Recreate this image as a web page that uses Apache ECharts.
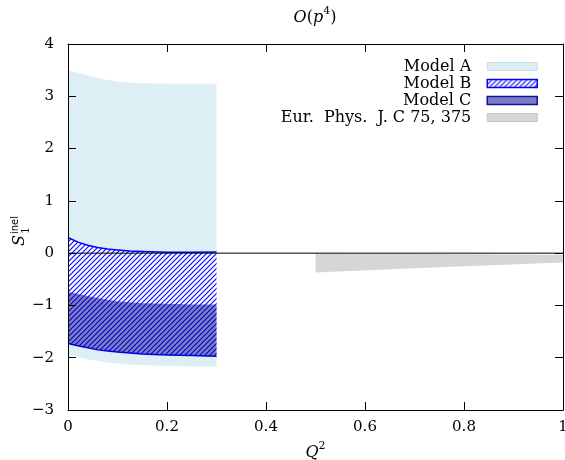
<!DOCTYPE html>
<html>
<head>
<meta charset="utf-8">
<script src="https://cdn.jsdelivr.net/npm/echarts@6/dist/echarts.min.js"></script>
<style>
  html, body { margin: 0; padding: 0; background: #fff; }
  #chart { width: 565px; height: 460px; }
</style>
</head>
<body>
<div id="chart"></div>
<script>
// Q^2 grid shared by the three models
const qModel = [0, 0.02, 0.04, 0.06, 0.08, 0.1, 0.125, 0.15, 0.2, 0.25, 0.3]

const modelALow = [-1.95, -1.99, -2.03, -2.06, -2.09, -2.11, -2.13, -2.14, -2.16, -2.17, -2.17]
const modelAHigh = [3.50, 3.45, 3.40, 3.35, 3.31, 3.28, 3.26, 3.25, 3.24, 3.24, 3.24]

const modelBLow = [-1.73, -1.77, -1.81, -1.85, -1.87, -1.89, -1.91, -1.93, -1.95, -1.96, -1.97]
const modelBHigh = [0.30, 0.21, 0.15, 0.11, 0.08, 0.06, 0.04, 0.03, 0.015, 0.015, 0.02]

const modelCLow = [-1.73, -1.77, -1.81, -1.85, -1.87, -1.89, -1.91, -1.93, -1.95, -1.96, -1.97]
const modelCHigh = [-0.74, -0.78, -0.82, -0.86, -0.89, -0.92, -0.94, -0.96, -0.97, -0.98, -0.98]

// Eur. Phys. J. C 75, 375
const qEpj = [0.5, 0.75, 1]
const epjLow = [-0.37, -0.27, -0.18]
const epjHigh = [-0.005, -0.015, -0.03]

const zeroLine = [[0, 0], [1, 0]]

const legendNames = ['Model A', 'Model B', 'Model C', 'Eur.  Phys.  J. C 75, 375']

const FONT = '"DejaVu Serif", "Liberation Serif", serif'

// diagonal hatch for Model B
function makeHatch() {
  const c = document.createElement('canvas')
  c.width = 5
  c.height = 5
  const ctx = c.getContext('2d')
  ctx.fillStyle = '#ffffff'
  ctx.fillRect(0, 0, 5, 5)
  ctx.strokeStyle = '#0a0aff'
  ctx.lineWidth = 1.2
  ctx.beginPath()
  ctx.moveTo(-1, 1); ctx.lineTo(1, -1)
  ctx.moveTo(-1, 6); ctx.lineTo(6, -1)
  ctx.moveTo(4, 6); ctx.lineTo(6, 4)
  ctx.stroke()
  return c
}
const hatch = { image: makeHatch(), repeat: 'repeat' }

function band(q, lo, hi) {
  return q.map(function (x, i) { return [x, lo[i], hi[i]] })
}

function bandSeries(name, q, lo, hi, fill, stroke, z) {
  return {
    name: name,
    type: 'custom',
    z: z,
    silent: true,
    encode: { x: 0, y: [1, 2] },
    data: band(q, lo, hi),
    renderItem: function (params, api) {
      if (params.dataIndexInside !== 0) return
      const n = params.dataInsideLength
      const top = []
      const bot = []
      for (let j = 0; j < n; j++) {
        top.push(api.coord([api.value(0, j), api.value(2, j)]))
        bot.push(api.coord([api.value(0, j), api.value(1, j)]))
      }
      const children = [{
        type: 'polygon',
        shape: { points: top.concat(bot.slice().reverse()) },
        style: { fill: fill }
      }]
      if (stroke) {
        children.push({ type: 'polyline', shape: { points: top }, style: { fill: null, stroke: stroke, lineWidth: 1.5 } })
        children.push({ type: 'polyline', shape: { points: bot }, style: { fill: null, stroke: stroke, lineWidth: 1.5 } })
      }
      return { type: 'group', children: children }
    }
  }
}

const chart = echarts.init(document.getElementById('chart'))

const tickStyle = { color: '#000', width: 1 }

const option = {
  animation: false,
  textStyle: { fontFamily: FONT },
  grid: { left: 68, right: 2, top: 44, bottom: 50, outerBoundsMode: 'none', containLabel: false },
  legend: {
    orient: 'vertical',
    right: 22,
    top: 53,
    align: 'right',
    itemWidth: 50,
    itemHeight: 8,
    itemGap: 0,
    selectedMode: false,
    textStyle: { fontFamily: FONT, fontSize: 16, color: '#000', lineHeight: 17, padding: [0, 11, 0, 0] },
    data: [
      { name: legendNames[0], icon: 'rect', itemStyle: { color: '#ddeef5', borderColor: '#c3e0ea', borderWidth: 1 } },
      { name: legendNames[1], icon: 'rect', itemStyle: { color: hatch, borderColor: '#0000ff', borderWidth: 1.5 } },
      { name: legendNames[2], icon: 'rect', itemStyle: { color: '#7b7bc4', borderColor: '#12129a', borderWidth: 1.5 } },
      { name: legendNames[3], icon: 'rect', itemStyle: { color: '#d6d6d6', borderColor: '#c6c6c6', borderWidth: 1 } }
    ]
  },
  graphic: [
    {
      type: 'text',
      x: 315,
      y: 16,
      style: {
        text: '{i|O}{r|(}{i|p}{s|4}{r|)}',
        textAlign: 'center',
        textVerticalAlign: 'middle',
        fill: '#000',
        rich: {
          i: { fontFamily: FONT, fontStyle: 'italic', fontSize: 16, verticalAlign: 'bottom', lineHeight: 20 },
          r: { fontFamily: FONT, fontSize: 16, verticalAlign: 'bottom', lineHeight: 20 },
          s: { fontFamily: FONT, fontSize: 11, verticalAlign: 'top', lineHeight: 12 }
        }
      }
    },
    {
      type: 'group',
      x: 20,
      y: 230,
      rotation: Math.PI / 2,
      children: [
        { type: 'text', x: -5, y: 0, style: { text: 'S', font: 'italic 16px ' + FONT, fill: '#000', textAlign: 'right', textVerticalAlign: 'middle' } },
        { type: 'text', x: -4, y: -5, style: { text: 'inel', font: '10px "DejaVu Sans", sans-serif', fill: '#000', textAlign: 'left', textVerticalAlign: 'middle' } },
        { type: 'text', x: -4, y: 6, style: { text: '1', font: '11px ' + FONT, fill: '#000', textAlign: 'left', textVerticalAlign: 'middle' } }
      ]
    }
  ],
  xAxis: [
    {
      type: 'value',
      min: 0,
      max: 1,
      interval: 0.2,
      z: 10,
      name: '{i|Q}{s|2}',
      nameLocation: 'middle',
      nameGap: 31,
      nameTextStyle: {
        rich: {
          i: { fontFamily: FONT, fontStyle: 'italic', fontSize: 16, color: '#000', verticalAlign: 'bottom', lineHeight: 20 },
          s: { fontFamily: FONT, fontSize: 11, color: '#000', verticalAlign: 'top', lineHeight: 12 }
        }
      },
      axisLine: { onZero: false, lineStyle: { color: '#000', width: 1 } },
      axisTick: { inside: true, length: 8, lineStyle: tickStyle },
      axisLabel: { fontFamily: FONT, fontSize: 15, color: '#000', margin: 10 },
      splitLine: { show: false }
    },
    {
      type: 'value',
      position: 'top',
      min: 0,
      max: 1,
      interval: 0.2,
      z: 10,
      axisLine: { onZero: false, lineStyle: { color: '#000', width: 1 } },
      axisTick: { inside: true, length: 8, lineStyle: tickStyle },
      axisLabel: { show: false },
      splitLine: { show: false }
    }
  ],
  yAxis: [
    {
      type: 'value',
      min: -3,
      max: 4,
      interval: 1,
      z: 10,
      axisLine: { onZero: false, lineStyle: { color: '#000', width: 1 } },
      axisTick: { inside: true, length: 8, lineStyle: tickStyle },
      axisLabel: {
        fontFamily: FONT,
        fontSize: 15,
        color: '#000',
        margin: 14,
        formatter: function (v) { return v < 0 ? '\u2212' + Math.abs(v) : String(v) }
      },
      splitLine: { show: false }
    },
    {
      type: 'value',
      position: 'right',
      min: -3,
      max: 4,
      interval: 1,
      z: 10,
      axisLine: { onZero: false, lineStyle: { color: '#000', width: 1 } },
      axisTick: { inside: true, length: 8, lineStyle: tickStyle },
      axisLabel: { show: false },
      splitLine: { show: false }
    }
  ],
  series: [
    bandSeries(legendNames[0], qModel, modelALow, modelAHigh, '#ddeef5', null, 2),
    bandSeries(legendNames[3], qEpj, epjLow, epjHigh, '#d6d6d6', null, 2),
    bandSeries(legendNames[1], qModel, modelBLow, modelBHigh, hatch, '#0000ff', 3),
    bandSeries(legendNames[2], qModel, modelCLow, modelCHigh, 'rgba(0, 0, 140, 0.5)', null, 4),
    {
      name: 'zero',
      type: 'line',
      z: 5,
      silent: true,
      symbol: 'none',
      data: zeroLine,
      lineStyle: { color: '#000', width: 1 }
    }
  ]
}

chart.setOption(option)
</script>
</body>
</html>
